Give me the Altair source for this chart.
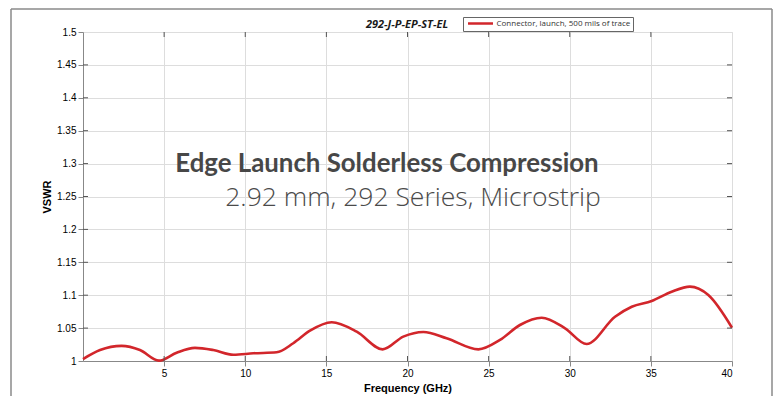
import altair as alt
import pandas as pd

# ---- data ----
freq_ghz = [0.0, 1.05, 2.38, 3.51, 4.68, 5.77, 6.9, 8.03, 9.27, 10.5, 11.93,
            12.96, 13.99, 15.33, 16.87, 18.47, 19.74, 20.98, 22.41, 24.37,
            25.7, 26.93, 28.27, 29.71, 31.04, 32.79, 33.82, 35.05, 36.28,
            37.41, 38.54, 40.0]
vswr = [1.003, 1.0167, 1.023, 1.0167, 1.0005, 1.0126, 1.020, 1.0167, 1.0096,
        1.0117, 1.0132, 1.027, 1.046, 1.0588, 1.0445, 1.0177, 1.037, 1.044,
        1.0345, 1.0177, 1.032, 1.0547, 1.0658, 1.0497, 1.0258, 1.0673,
        1.0825, 1.0912, 1.1053, 1.113, 1.1003, 1.0506]
series_name = "Connector, launch, 500 mils of trace"
x_tick_values = [5, 10, 15, 20, 25, 30, 35, 40]
y_tick_values = [1.0, 1.05, 1.1, 1.15, 1.2, 1.25, 1.3, 1.35, 1.4, 1.45, 1.5]
inner_x_ticks = [5, 10, 15, 20, 25, 30, 35]
inner_y_ticks = [1.05, 1.1, 1.15, 1.2, 1.25, 1.3, 1.35, 1.4, 1.45]
chart_title = "292-J-P-EP-ST-EL"
headline = "Edge Launch Solderless Compression"
subline = "2.92 mm, 292 Series, Microstrip"

W, H = 649, 329
AX_FONT = "Open Sans"
FRAME = "#555555"
GRID = "#e4e4e4"
RED = "#d2262b"

df = pd.DataFrame({"freq": freq_ghz, "vswr": vswr, "series": series_name})
xt = pd.DataFrame({"freq": inner_x_ticks})
yt = pd.DataFrame({"vswr": inner_y_ticks})
one = pd.DataFrame({"a": [0]})

xs = alt.Scale(domain=[0, 40], nice=False, zero=False)
ys = alt.Scale(domain=[1, 1.5], nice=False, zero=False)
x_axis = alt.Axis(values=x_tick_values, title="Frequency (GHz)",
                  format="~g", grid=True, labelOverlap=False)
y_axis = alt.Axis(values=y_tick_values, title="VSWR", format="~g",
                  grid=True, labelOverlap=False)

line = alt.Chart(df).mark_line(strokeWidth=2.6, interpolate="monotone").encode(
    x=alt.X("freq:Q", scale=xs, axis=x_axis),
    y=alt.Y("vswr:Q", scale=ys, axis=y_axis),
    color=alt.Color("series:N",
                    scale=alt.Scale(domain=[series_name], range=[RED]),
                    legend=alt.Legend(
                        orient="none", legendX=380, legendY=-15, title=None,
                        padding=2, strokeColor="#666666", fillColor="white",
                        symbolType="M-4,0H4", symbolSize=39,
                        symbolStrokeWidth=2.5, symbolOffset=11,
                        labelOffset=11.5, labelFont=AX_FONT, labelFontSize=8,
                        labelColor="#333333")),
)

tick_b = alt.Chart(xt).mark_rule(color=FRAME, strokeWidth=1).encode(
    x=alt.X("freq:Q", scale=xs, axis=x_axis), y=alt.value(H), y2=alt.value(H - 5))
tick_t = alt.Chart(xt).mark_rule(color=FRAME, strokeWidth=1).encode(
    x=alt.X("freq:Q", scale=xs, axis=x_axis), y=alt.value(0), y2=alt.value(5))
tick_l = alt.Chart(yt).mark_rule(color=FRAME, strokeWidth=1).encode(
    y=alt.Y("vswr:Q", scale=ys, axis=y_axis), x=alt.value(0), x2=alt.value(5))
tick_r = alt.Chart(yt).mark_rule(color=FRAME, strokeWidth=1).encode(
    y=alt.Y("vswr:Q", scale=ys, axis=y_axis), x=alt.value(W), x2=alt.value(W - 5))

frame_l = alt.Chart(one).mark_rule(color="#8a8a8a", strokeWidth=1.5).encode(
    x=alt.value(-72), y=alt.value(-23), y2=alt.value(420))
frame_t = alt.Chart(one).mark_rule(color="#8a8a8a", strokeWidth=1.5).encode(
    x=alt.value(-72), x2=alt.value(689), y=alt.value(-23))
frame_r = alt.Chart(one).mark_rule(color="#8a8a8a", strokeWidth=1.5).encode(
    x=alt.value(689), y=alt.value(-23), y2=alt.value(420))

title_txt = alt.Chart(one).mark_text(
    font=AX_FONT, fontSize=11, fontWeight="bold", fontStyle="italic",
    color="#1a1a1a", align="center", baseline="alphabetic").encode(
    x=alt.value(324), y=alt.value(-4), text=alt.value(chart_title))
head = alt.Chart(one).mark_text(
    font="Lato", fontSize=25.8, fontWeight="bold", color="#474747",
    align="center", baseline="alphabetic").encode(
    x=alt.value(304), y=alt.value(139.5), text=alt.value(headline))
sub = alt.Chart(one).mark_text(
    font="Open Sans", fontSize=26.5, fontWeight=300, color="#4a4a4a",
    align="center", baseline="alphabetic").encode(
    x=alt.value(330), y=alt.value(173.5), text=alt.value(subline))

chart = alt.layer(
    frame_l, frame_t, frame_r, line, tick_b, tick_t, tick_l, tick_r,
    title_txt, head, sub
).properties(
    width=W, height=H,
    autosize=alt.AutoSizeParams(type="none"),
    padding={"left": 75, "top": 24, "right": 41, "bottom": 35},
).configure_view(
    stroke=FRAME, strokeWidth=1.5
).configure_axis(
    domain=False, ticks=False, gridColor=GRID, gridWidth=1,
    labelFont=AX_FONT, labelFontSize=11, labelFontWeight="bold",
    labelColor="#222222", titleFont=AX_FONT, titleFontSize=11,
    titleFontWeight="bold", titleColor="#111111"
).configure_axisX(
    labelPadding=4, titlePadding=2
).configure_axisY(
    labelPadding=4, titlePadding=2
).configure(background="white")

chart.save("out.html", embed_options={"renderer": "svg", "actions": False})
